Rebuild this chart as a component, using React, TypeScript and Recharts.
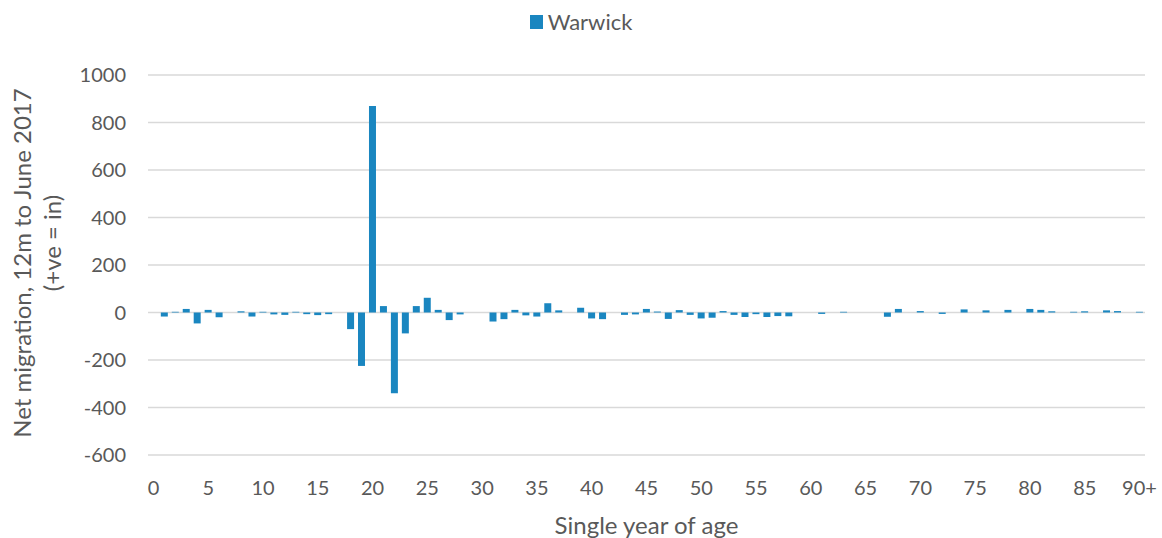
import React from 'react';
import {
  Bar,
  BarChart,
  CartesianGrid,
  Legend,
  XAxis,
  YAxis,
} from 'recharts';

// single year of age, 0 .. 90+
const ages = [
  '0', '1', '2', '3', '4', '5', '6', '7', '8', '9',
  '10', '11', '12', '13', '14', '15', '16', '17', '18', '19',
  '20', '21', '22', '23', '24', '25', '26', '27', '28', '29',
  '30', '31', '32', '33', '34', '35', '36', '37', '38', '39',
  '40', '41', '42', '43', '44', '45', '46', '47', '48', '49',
  '50', '51', '52', '53', '54', '55', '56', '57', '58', '59',
  '60', '61', '62', '63', '64', '65', '66', '67', '68', '69',
  '70', '71', '72', '73', '74', '75', '76', '77', '78', '79',
  '80', '81', '82', '83', '84', '85', '86', '87', '88', '89',
  '90+',
];

// net migration, 12m to June 2017
const warwick = [
  0, -17, 3, 15, -46, 11, -20, 0, 5, -17,
  3, -8, -10, 3, -7, -11, -7, 0, -70, -225,
  870, 27, -340, -88, 27, 62, 11, -32, -8, 0,
  0, -38, -28, 11, -12, -17, 39, 9, 0, 20,
  -25, -28, 0, -10, -8, 15, 4, -27, 10, -10,
  -25, -22, 6, -10, -19, -7, -19, -15, -16, 0,
  0, -6, 0, 3, 0, 0, 0, -18, 15, 0,
  6, 0, -6, 0, 13, 0, 9, 0, 11, 0,
  15, 11, 5, 0, 3, 5, 0, 9, 6, 0,
  3,
];

const yTicks = [-600, -400, -200, 0, 200, 400, 600, 800, 1000];

const data = ages.map((age, i) => ({ age, Warwick: warwick[i] }));

const BLUE = '#1a86c0';
const TEXT = '#595959';
const FONT = 'Lato, sans-serif';

const YLabel = () => (
  <g fill={TEXT} fontFamily={FONT} fontSize={24}>
    <text x={31} y={263} transform="rotate(-90 31 263)" textAnchor="middle">
      Net migration, 12m to June 2017
    </text>
    <text x={61} y={243} transform="rotate(-90 61 243)" textAnchor="middle">
      (+ve = in)
    </text>
  </g>
);

const LegendBox = () => (
  <div
    style={{
      display: 'flex',
      alignItems: 'center',
      justifyContent: 'center',
      fontFamily: FONT,
      fontSize: 22,
      color: TEXT,
    }}
  >
    <span style={{ width: 13, height: 14, background: BLUE, marginRight: 5, display: 'inline-block' }} />
    <span>Warwick</span>
  </div>
);

export default function App() {
  return (
    <div style={{ width: 1162, height: 538, background: '#fff' }}>
      <style>{'body{margin:0}'}</style>
      <BarChart
        width={1162}
        height={538}
        data={data}
        margin={{ top: 75, right: 17, left: 0, bottom: 0 }}
        barCategoryGap="17%"
      >
        <CartesianGrid vertical={false} stroke="#d9d9d9" strokeWidth={1.3} />
        <XAxis
          dataKey="age"
          interval={4}
          height={83}
          axisLine={false}
          tickLine={false}
          tickSize={0}
          tickMargin={26}
          tick={{ fill: TEXT, fontFamily: FONT, fontSize: 20 }}
          label={{
            value: 'Single year of age',
            position: 'insideBottom',
            offset: 4,
            fill: TEXT,
            fontFamily: FONT,
            fontSize: 24,
          }}
        />
        <YAxis
          width={148}
          domain={[-600, 1000]}
          ticks={yTicks}
          interval={0}
          axisLine={false}
          tickLine={false}
          tickSize={0}
          tickMargin={22}
          tick={{ fill: TEXT, fontFamily: FONT, fontSize: 20 }}
          label={<YLabel />}
        />
        <Legend
          verticalAlign="middle"
          align="center"
          wrapperStyle={{ top: 8, left: 0, width: 1162 }}
          content={<LegendBox />}
        />
        <Bar dataKey="Warwick" fill={BLUE} isAnimationActive={false} />
      </BarChart>
    </div>
  );
}
